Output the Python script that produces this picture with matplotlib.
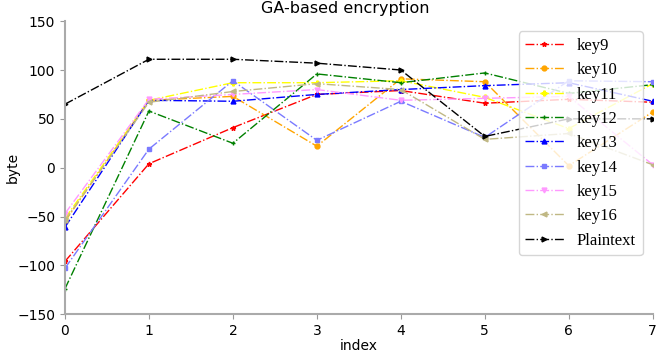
import matplotlib
matplotlib.use("Agg")
import matplotlib.pyplot as plt

index = [0, 1, 2, 3, 4, 5, 6, 7]
key9 = [-96, 4, 41, 75, 79, 66, 70, 67]
key10 = [-55, 69, 73, 22, 91, 88, 2, 57]
key11 = [-52, 69, 87, 87, 89, 72, 40, 86]
key12 = [-124, 58, 25, 96, 87, 97, 76, 85]
key13 = [-61, 69, 68, 75, 80, 84, 87, 68]
key14 = [-103, 19, 89, 28, 68, 31, 89, 88]
key15 = [-47, 70, 75, 80, 69, 71, 73, 3]
key16 = [-54, 67, 78, 86, 80, 29, 35, 3]
plaintext = [65, 111, 111, 107, 100, 32, 50, 50]

series = [
    ("key9", key9, "red", "*"),
    ("key10", key10, "orange", "o"),
    ("key11", key11, "yellow", "P"),
    ("key12", key12, "green", "+"),
    ("key13", key13, "blue", "^"),
    ("key14", key14, "#7a7aff", "s"),
    ("key15", key15, "#ff99ff", "v"),
    ("key16", key16, "#c0b884", "<"),
    ("Plaintext", plaintext, "black", ">"),
]

fig = plt.figure(figsize=(6.56, 3.53), dpi=100)
ax = fig.add_axes([0.099, 0.110, 0.896, 0.830])

for name, vals, col, mk in series:
    ax.plot(index, vals, linestyle="-.", color=col, marker=mk, markersize=3.5,
            linewidth=1.0, label=name)

ax.set_xlim(0, 7)
ax.set_ylim(-150, 150)
ax.set_xticks(index)
ax.set_yticks([-150, -100, -50, 0, 50, 100, 150])
ax.tick_params(labelsize=10, color="#999999")
ax.set_title("GA-based encryption", fontsize=11.5, x=0.477)
ax.set_xlabel("index", fontsize=10, labelpad=1)
ax.set_ylabel("byte", fontsize=10)
ax.yaxis.set_label_coords(-0.077, 0.5)
for s in ["top", "right"]:
    ax.spines[s].set_visible(False)
for s in ["left", "bottom"]:
    ax.spines[s].set_color("#aaaaaa")
    ax.spines[s].set_linewidth(1.5)

ax.legend(loc="upper right", prop={"family": "Liberation Serif", "size": 12},
          framealpha=0.8, borderaxespad=0.6, handlelength=2.3)

fig.savefig("out.png", dpi=100)
